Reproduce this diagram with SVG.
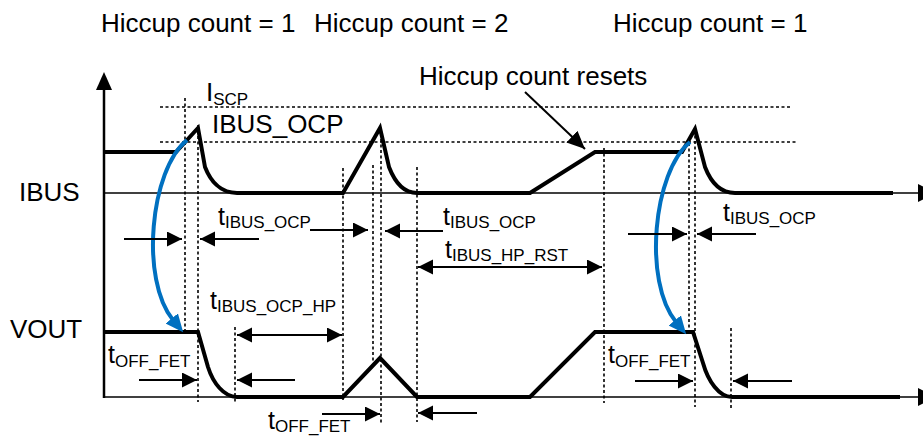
<svg xmlns="http://www.w3.org/2000/svg" width="923" height="437" viewBox="0 0 923 437">
<style>
text{font-family:"Liberation Sans",Arial,sans-serif;fill:#000}
.big{font-size:26px}
.t{font-size:25px}
.sub{font-size:17px}
.wave{fill:none;stroke:#000;stroke-width:4;stroke-linejoin:miter}
.base{fill:none;stroke:#000;stroke-width:1.6}
.dot{fill:none;stroke:#000;stroke-width:1.6;stroke-dasharray:3 2.5}
.dim{fill:none;stroke:#000;stroke-width:2}
.blue{fill:none;stroke:#0070c0;stroke-width:4}
</style>
<defs>
<marker id="ah" markerUnits="userSpaceOnUse" markerWidth="16" markerHeight="16" refX="15" refY="7.5" orient="auto-start-reverse">
<path d="M0,0 L15,7.5 L0,15 z" fill="#000"/>
</marker>
<marker id="ahb" markerUnits="userSpaceOnUse" markerWidth="20" markerHeight="18" refX="18" refY="8" orient="auto">
<path d="M0,0 L18,8 L0,16 z" fill="#000"/>
</marker>
<marker id="blueah" markerUnits="userSpaceOnUse" markerWidth="20" markerHeight="20" refX="2" refY="8" orient="auto">
<path d="M0,0 L18,8 L0,16 z" fill="#0070c0"/>
</marker>
</defs>

<g id="top-labels">
<text class="big" x="101" y="32">Hiccup count = 1</text>
<text class="big" x="314" y="32">Hiccup count = 2</text>
<text class="big" x="613" y="32">Hiccup count = 1</text>
<text class="big" x="419" y="85">Hiccup count resets</text>
</g>

<g id="axes">
<line class="base" x1="104" y1="88" x2="104" y2="398" style="stroke-width:2.5"/>
<polygon points="104,72 96,90 112,90" fill="#000"/>
<line class="base" x1="104" y1="193" x2="919" y2="193"/>
<polygon points="918,184 936,193 918,202" fill="#000"/>
<line class="base" x1="104" y1="397" x2="919" y2="397"/>
<polygon points="918,388 936,397 918,406" fill="#000"/>
<text class="big" x="19" y="201">IBUS</text>
<text class="big" x="10" y="338">VOUT</text>
</g>

<g id="thresholds">
<line class="dot" x1="160" y1="107" x2="792" y2="107"/>
<line class="dot" x1="160" y1="142" x2="797" y2="142"/>
<text class="big" x="206" y="101">I<tspan class="sub" dy="4">SCP</tspan></text>
<text class="big" x="212" y="133">IBUS_OCP</text>
</g>

<g id="time-markers">
<line class="dot" x1="185" y1="98" x2="185" y2="330"/>
<line class="dot" x1="198" y1="125" x2="198" y2="402"/>
<line class="dot" x1="235" y1="327" x2="235" y2="403"/>
<line class="dot" x1="343" y1="168" x2="343" y2="400"/>
<line class="dot" x1="373" y1="165" x2="373" y2="363"/>
<line class="dot" x1="381" y1="128" x2="381" y2="425"/>
<line class="dot" x1="417" y1="167" x2="417" y2="422"/>
<line class="dot" x1="604" y1="148" x2="604" y2="403"/>
<line class="dot" x1="689" y1="143" x2="689" y2="332"/>
<line class="dot" x1="695" y1="130" x2="695" y2="407"/>
<line class="dot" x1="731" y1="328" x2="731" y2="408"/>
</g>

<g id="waveforms">
<path id="ibus-wave" class="wave" d="M104,152 L176,152 L198,128 L205,167 C210,180 220,193 237,193 L343,193 L380,128 L389,167 C394,180 403,193 417,193 L530,193 L595,152 L682,152 L695,129 L705,167 C710,180 719,193 735,193 L893,193"/>
<path id="vout-wave" class="wave" d="M104,332 L198,332 L208,367 C213,383 224,397 237,397 L343,397 L380,358 L417,397 L530,397 L595,332 L693,332 L703,363 C708,381 719,397 732,397 L900,397"/>
</g>

<g id="connectors">
<path class="blue" d="M187,140 C150,170 140,280 173,320" marker-end="url(#blueah)"/>
<path class="blue" d="M690,142 C653,172 643,282 676,322" marker-end="url(#blueah)"/>
<line class="dim" x1="525" y1="92" x2="585" y2="149" marker-end="url(#ahb)"/>
<line class="dim" x1="124" y1="239" x2="182" y2="239" marker-end="url(#ah)"/>
<line class="dim" x1="259" y1="239" x2="200" y2="239" marker-end="url(#ah)"/>
<line class="dim" x1="310" y1="230" x2="368" y2="230" marker-end="url(#ah)"/>
<line class="dim" x1="443" y1="231" x2="385" y2="231" marker-end="url(#ah)"/>
<line class="dim" x1="418" y1="267" x2="602" y2="267" marker-start="url(#ah)" marker-end="url(#ah)"/>
<line class="dim" x1="628" y1="234" x2="687" y2="234" marker-end="url(#ah)"/>
<line class="dim" x1="756" y1="234" x2="697" y2="234" marker-end="url(#ah)"/>
<line class="dim" x1="139" y1="380" x2="197" y2="380" marker-end="url(#ah)"/>
<line class="dim" x1="295" y1="380" x2="237" y2="380" marker-end="url(#ah)"/>
<line class="dim" x1="237" y1="335" x2="342" y2="335" marker-start="url(#ah)" marker-end="url(#ah)"/>
<line class="dim" x1="322" y1="414" x2="380" y2="414" marker-end="url(#ah)"/>
<line class="dim" x1="477" y1="413" x2="418" y2="413" marker-end="url(#ah)"/>
<line class="dim" x1="635" y1="381" x2="693" y2="381" marker-end="url(#ah)"/>
<line class="dim" x1="792" y1="381" x2="733" y2="381" marker-end="url(#ah)"/>
</g>

<g id="timing-labels">
<text class="t" x="218" y="225">t<tspan class="sub" dy="3">IBUS_OCP</tspan></text>
<text class="t" x="443" y="225">t<tspan class="sub" dy="3">IBUS_OCP</tspan></text>
<text class="t" x="445" y="258">t<tspan class="sub" dy="3">IBUS_HP_RST</tspan></text>
<text class="t" x="723" y="221">t<tspan class="sub" dy="3">IBUS_OCP</tspan></text>
<text class="t" x="210" y="309">t<tspan class="sub" dy="3">IBUS_OCP_HP</tspan></text>
<text class="t" x="108" y="363">t<tspan class="sub" dy="4">OFF_FET</tspan></text>
<text class="t" x="268" y="429">t<tspan class="sub" dy="3">OFF_FET</tspan></text>
<text class="t" x="608" y="363">t<tspan class="sub" dy="4">OFF_FET</tspan></text>
</g>
</svg>
